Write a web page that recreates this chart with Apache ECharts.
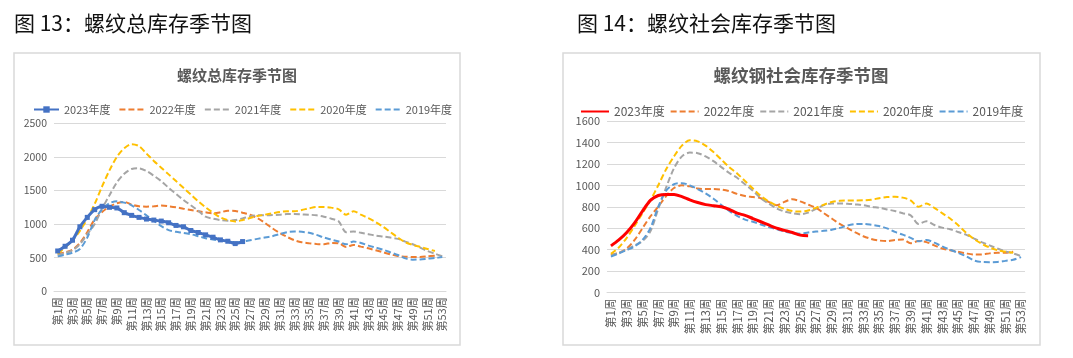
<!DOCTYPE html>
<html><head><meta charset="utf-8">
<script src="https://cdn.jsdelivr.net/npm/echarts@6/dist/echarts.min.js"></script>
<style>
html,body{margin:0;padding:0;background:#fff;}
#c1{position:absolute;left:0;top:0;width:536px;height:358px;}
#c2{position:absolute;left:536px;top:0;width:537px;height:358px;}
</style></head>
<body>
<div id="c1"></div><div id="c2"></div>
<script>
const weeks = ['第1周','第2周','第3周','第4周','第5周','第6周','第7周','第8周','第9周','第10周',
'第11周','第12周','第13周','第14周','第15周','第16周','第17周','第18周','第19周','第20周',
'第21周','第22周','第23周','第24周','第25周','第26周','第27周','第28周','第29周','第30周',
'第31周','第32周','第33周','第34周','第35周','第36周','第37周','第38周','第39周','第40周',
'第41周','第42周','第43周','第44周','第45周','第46周','第47周','第48周','第49周','第50周',
'第51周','第52周','第53周'];
const seriesNames = ['2023年度','2022年度','2021年度','2020年度','2019年度'];

// 螺纹总库存
const total2023 = [600,670,760,960,1100,1215,1265,1250,1240,1170,1130,1100,1075,1060,1045,1020,980,960,905,875,840,805,765,745,710,740];
const total2022 = [560,580,620,720,880,1070,1180,1260,1310,1330,1290,1265,1260,1265,1275,1265,1250,1230,1210,1190,1175,1160,1175,1200,1195,1170,1140,1090,1020,940,870,810,760,730,715,705,700,720,715,660,690,665,640,610,580,550,525,515,510,510,520,530];
const total2021 = [540,570,610,700,850,1000,1230,1430,1620,1750,1820,1830,1790,1720,1640,1540,1450,1360,1280,1200,1110,1080,1060,1050,1060,1085,1115,1130,1130,1135,1140,1150,1150,1145,1140,1130,1110,1080,1040,880,890,870,850,830,815,800,780,740,700,650,600,560,520];
const total2020 = [560,650,760,900,1080,1300,1560,1800,2000,2130,2190,2160,2050,1940,1840,1740,1640,1540,1440,1340,1250,1170,1100,1060,1040,1060,1090,1120,1140,1160,1180,1190,1190,1210,1235,1255,1255,1245,1220,1140,1190,1140,1090,1030,960,880,800,730,690,660,630,600];
const total2019 = [520,545,575,630,800,1060,1220,1310,1340,1320,1280,1210,1130,1050,970,910,885,870,850,820,790,770,755,740,730,740,760,780,800,820,850,880,890,885,870,840,800,770,740,700,740,720,680,650,620,580,540,490,470,475,485,495,510];

// 螺纹钢社会库存
const social2023 = [435,490,560,650,760,860,905,915,915,895,865,840,820,810,800,775,740,720,690,660,630,600,580,560,535,530];
const social2022 = [350,370,410,490,600,710,800,900,975,1000,990,970,965,965,960,945,920,900,890,880,845,815,845,870,850,820,790,740,690,640,600,560,525,500,485,480,490,495,460,480,470,440,410,395,380,365,355,355,365,370,370,380];
const social2021 = [345,370,400,440,480,570,780,980,1160,1270,1305,1300,1270,1225,1170,1115,1070,1010,950,880,830,785,755,740,730,745,780,815,830,830,828,822,815,800,790,775,760,740,720,640,665,630,605,590,565,540,505,470,440,410,385,365,340];
const social2020 = [360,420,510,620,740,860,1000,1150,1270,1370,1420,1410,1370,1310,1240,1170,1110,1040,970,900,850,810,780,760,755,765,790,820,845,855,858,858,860,865,880,890,893,885,860,800,830,790,740,690,630,560,500,455,420,395,380,370];
const social2019 = [335,365,395,430,490,600,800,950,1010,1020,1000,965,925,875,815,760,715,680,660,635,610,590,570,555,548,560,568,575,585,603,625,638,640,632,620,598,565,540,510,478,490,465,430,400,370,340,300,285,283,285,295,305,330];

const FONT = "'Noto Sans CJK SC', sans-serif";
const GREY = '#595959';

function build(cfg){
  const dashColors = ['#ED7D31','#A5A5A5','#FFC000','#5B9BD5'];
  const series = [{
    name: seriesNames[0], type:'line', data: cfg.first, smooth:0.3,
    symbol: cfg.firstSymbol ? 'rect' : 'none', symbolSize: 5, showSymbol: !!cfg.firstSymbol, showAllSymbol:true,
    itemStyle:{color: cfg.firstColor},
    lineStyle:{color: cfg.firstColor, width: 3}, z: 10
  }];
  cfg.dashData.forEach((d,i)=>{
    series.push({
      name: seriesNames[i+1], type:'line', data:d, smooth:0.3, symbol:'none',
      itemStyle:{color:dashColors[i]},
      lineStyle:{color:dashColors[i], width:2, type:[6,3]}
    });
  });
  const legendData = seriesNames.map((n,i)=>(
    (i===0 && cfg.firstSymbol) ? {name:n, itemStyle:{opacity:1}} : {name:n, itemStyle:{opacity:0}}
  ));
  return {
    animation:false,
    textStyle:{fontFamily:FONT},
    graphic:[
      {type:'rect', shape:{x:cfg.box[0], y:cfg.box[1], width:cfg.box[2], height:cfg.box[3]},
       style:{fill:'#fff', stroke:'#d9d9d9', lineWidth:1.5}, z:-10, silent:true},
      {type:'text', style:{text:cfg.header, x:cfg.headerX, y:23, verticalAlign:'middle', align:'left',
        font:"21px " + FONT, fill:'#111'}},
      {type:'text', style:{text:cfg.title, x:cfg.titleX, y:cfg.titleY, verticalAlign:'middle', align:'center',
        font:"bold " + cfg.titleSize + "px " + FONT, fill:GREY}}
    ],
    legend:{
      left:cfg.legendLeft, top:cfg.legendTop, itemWidth:cfg.legendIcon, itemHeight:8, itemGap:cfg.legendGap,
      textStyle:{fontSize:cfg.legendFont, color:GREY, fontFamily:FONT},
      data: legendData
    },
    grid:{left:cfg.grid[0], right:cfg.grid[1], top:cfg.grid[2], bottom:cfg.grid[3], containLabel:false, outerBoundsMode:'none'},
    xAxis:{
      type:'category', data:weeks, boundaryGap:true,
      axisLine:{show:true, lineStyle:{color:'#d9d9d9'}}, axisTick:{show:false},
      axisLabel:{interval:1, rotate:90, fontSize:cfg.xFont, color:GREY, margin:6, fontFamily:FONT}
    },
    yAxis:{
      type:'value', min:0, max:cfg.yMax, interval:cfg.yInt,
      axisLine:{show:false}, axisTick:{show:false},
      axisLabel:{fontSize:cfg.yFont, color:GREY, margin:7, fontFamily:FONT, formatter:(v)=>String(v)},
      splitLine:{lineStyle:{color:'#d9d9d9', width:1}}
    },
    series: series
  };
}

const c1 = echarts.init(document.getElementById('c1'), null, {renderer:'canvas'});
c1.setOption(build({
  header:'图 13：螺纹总库存季节图', headerX:14,
  title:'螺纹总库存季节图', titleX:237, titleY:75, titleSize:15,
  box:[14,53,446,292],
  legendLeft:28, legendTop:99, legendIcon:25, legendGap:8, legendFont:11,
  grid:[54,90,123.3,66.7], xFont:11, yFont:10.5,
  yMax:2500, yInt:500,
  first: total2023, firstSymbol:true, firstColor:'#4472C4',
  dashData:[total2022,total2021,total2020,total2019]
}));

const c2 = echarts.init(document.getElementById('c2'), null, {renderer:'canvas'});
c2.setOption(build({
  header:'图 14：螺纹社会库存季节图', headerX:41,
  title:'螺纹钢社会库存季节图', titleX:265, titleY:75, titleSize:17.5,
  box:[27,53,477,292],
  legendLeft:39, legendTop:100.5, legendIcon:28, legendGap:5, legendFont:12,
  grid:[71,48,121,65.5], xFont:11.5, yFont:11,
  yMax:1600, yInt:200,
  first: social2023, firstSymbol:false, firstColor:'#FF0000',
  dashData:[social2022,social2021,social2020,social2019]
}));
</script>
</body></html>
